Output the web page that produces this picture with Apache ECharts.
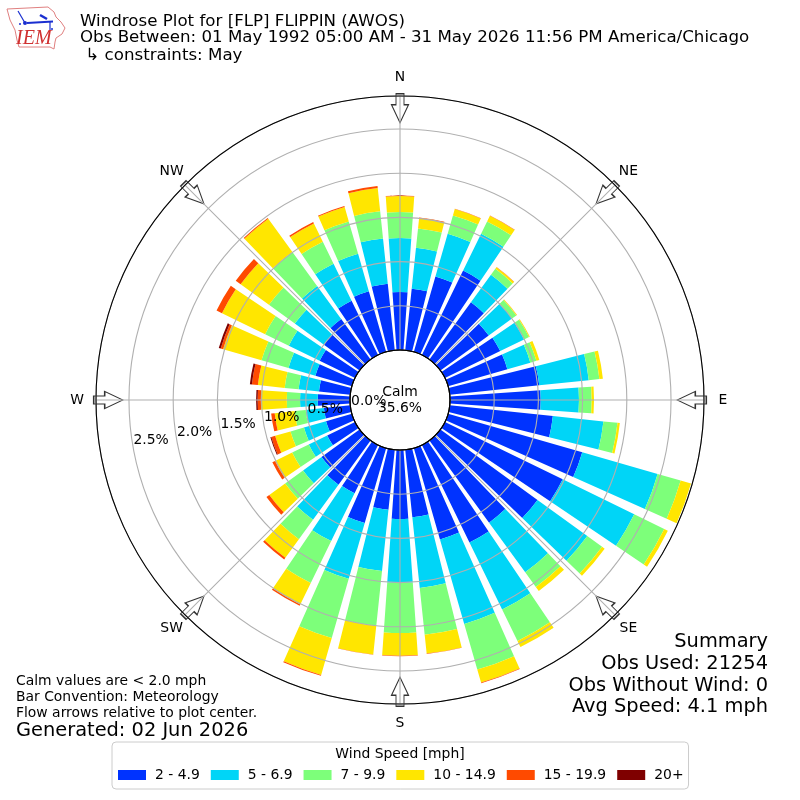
<!DOCTYPE html>
<html><head><meta charset="utf-8">
<style>html,body{margin:0;padding:0;background:#fff}#c{width:800px;height:800px}</style>
<script src="https://cdn.jsdelivr.net/npm/echarts@6/dist/echarts.min.js"></script>
</head><body><div id="c"></div>
<script>
const directions=[0,10,20,30,40,50,60,70,80,90,100,110,120,130,140,150,160,170,180,190,200,210,220,230,240,250,260,270,280,290,300,310,320,330,340,350];
const speed2to5=[.656,.701,.888,1.063,.800,.675,.696,.698,1.018,1.026,1.173,1.579,1.482,1.357,1.149,1.227,1.075,.769,.781,.684,.882,.607,.618,.532,.351,.305,.300,.365,.356,.430,.446,.498,.566,.684,.713,.758];
const speed5to7=[.611,.464,.503,.464,.385,.326,.300,.270,.563,.433,.575,.887,.900,.696,.695,.843,.995,.803,.724,.696,.656,.603,.491,.258,.232,.260,.207,.200,.232,.317,.388,.407,.464,.465,.441,.514];
const speed7to10=[.294,.221,.215,.155,.083,.060,.062,.072,.121,.144,.160,.271,.378,.207,.204,.396,.536,.532,.566,.622,.697,.527,.271,.251,.209,.158,.127,.150,.158,.317,.298,.362,.475,.276,.382,.308];
const speed10to15=[.181,.119,.075,.071,.023,.008,.009,.034,.040,.026,.027,.122,.045,.036,.057,.076,.154,.215,.255,.326,.434,.270,.260,.221,.215,.181,.226,.294,.305,.452,.543,.396,.464,.232,.169,.265];
const speed15to20=[.006,.006,.005,.004,.002,.002,.001,0,0,0,0,0,0,0,0,.001,.006,.004,.006,.004,.011,.017,.023,.040,.034,.045,.040,.036,.068,.028,.068,.068,.011,.017,.011,.023];
const speed20plus=[0,0,0,0,0,0,0,0,0,0,0,0,0,0,0,0,0,0,0,0,0,0,0,0,0,.011,0,.017,.023,.023,0,0,0,0,0,0];
const speedNames=['2 - 4.9','5 - 6.9','7 - 9.9','10 - 14.9','15 - 19.9','20+'];
const speedColors=['#0033ff','#00d5f7','#7dff7a','#ffe600','#ff4a00','#7f0000'];
const speedValues=[speed2to5,speed5to7,speed7to10,speed10to15,speed15to20,speed20plus];
const ringTicks=[0,.5,1,1.5,2,2.5];
const compassNames=['N','NE','E','SE','S','SW','W','NW'];
const compassAngles=[0,45,90,135,180,225,270,315];
const radiusMax=2.873, arrowRadius=2.735, ringLabelAngle=260;
const FONT='"DejaVu Sans"';
const chart=echarts.init(document.getElementById('c'),null,{renderer:'canvas'});
const text=(x,y,t,size,extra)=>({type:'text',x,y,z:20,style:Object.assign({text:t,fill:'#000',font:size+'px '+FONT,textAlign:'left',textVerticalAlign:'middle'},extra||{})});
const blue='#1a2fd0';
chart.setOption({
 animation:false,
 backgroundColor:'#fff',
 polar:[
  {center:[400,400],radius:[50,304]},
  {center:[400,400],radius:[50,304]},
  {center:[400,400],radius:[0,323]}
 ],
 angleAxis:[
  {polarIndex:0,type:'category',data:directions,startAngle:95,clockwise:true,show:false},
  {polarIndex:1,type:'value',min:0,max:360,interval:45,startAngle:90,clockwise:true,z:6,
   axisLine:{show:true,lineStyle:{color:'#000',width:1.1}},axisTick:{show:false},axisLabel:{show:false},
   splitLine:{show:true,lineStyle:{color:'#b0b0b0',width:1.1}}},
  {polarIndex:2,type:'value',min:0,max:360,startAngle:90,clockwise:true,show:false}
 ],
 radiusAxis:[
  {polarIndex:0,type:'value',min:0,max:radiusMax,show:false},
  {polarIndex:1,type:'value',min:0,max:radiusMax,interval:.5,z:5,
   axisLine:{show:false},axisTick:{show:false},axisLabel:{show:false},
   splitLine:{show:true,lineStyle:{color:'#b0b0b0',width:1.1}}},
  {polarIndex:2,type:'value',min:0,max:1,show:false}
 ],
 legend:{left:112,top:742,orient:'horizontal',padding:[26,5,7,6],itemWidth:28,itemHeight:10,itemGap:11,
  backgroundColor:'#fff',borderColor:'#ccc',borderWidth:1,borderRadius:4,
  data:speedNames,icon:'rect',textStyle:{fontFamily:FONT,fontSize:13.9,color:'#000',padding:[0,0,0,4]}},
 series:[
  ...speedValues.map((vals,i)=>({type:'bar',name:speedNames[i],coordinateSystem:'polar',polarIndex:0,stack:'wind',
    barWidth:'80%',z:2,data:vals,itemStyle:{color:speedColors[i]}})),
  {type:'scatter',coordinateSystem:'polar',polarIndex:1,z:3,silent:true,
   symbol:'path://M4.5 0 L12.5 0 L12.5 11 L17 11 L8.5 29 L0 11 L4.5 11 Z',symbolSize:[17,29],
   symbolRotate:(v)=>-v[1],itemStyle:{color:'#fff',borderColor:'#333',borderWidth:1.2,opacity:1},
   data:compassAngles.map(a=>[arrowRadius,a])},
  {type:'scatter',coordinateSystem:'polar',polarIndex:1,z:10,silent:true,symbolSize:1,itemStyle:{color:'transparent',opacity:1},
   label:{show:true,position:'inside',offset:[18,-7],fontFamily:FONT,fontSize:13.9,color:'#000',formatter:p=>p.value[0].toFixed(1)+'%'},
   data:ringTicks.map(v=>[v,ringLabelAngle])},
  {type:'scatter',coordinateSystem:'polar',polarIndex:2,z:10,silent:true,symbolSize:1,itemStyle:{color:'transparent',opacity:1},
   label:{show:true,position:'inside',fontFamily:FONT,fontSize:13.9,color:'#000',formatter:p=>compassNames[p.dataIndex]},
   data:compassAngles.map(a=>[1,a])}
 ],
 graphic:{elements:[
  {type:'circle',shape:{cx:400,cy:400,r:50},z:20,style:{fill:null,stroke:'#000',lineWidth:1.1}},
  text(400,392,'Calm',13.9,{textAlign:'center'}),
  text(400,408,'35.6%',13.9,{textAlign:'center'}),
  text(80,21.5,'Windrose Plot for [FLP] FLIPPIN (AWOS)',16.67),
  text(80,38,'Obs Between: 01 May 1992 05:00 AM - 31 May 2026 11:56 PM America/Chicago',16.67),
  text(80,55.5,' ↳ constraints: May',16.67),
  text(16,681,'Calm values are < 2.0 mph',13.9),
  text(16,697.5,'Bar Convention: Meteorology',13.9),
  text(16,713,'Flow arrows relative to plot center.',13.9),
  text(16,731,'Generated: 02 Jun 2026',19.4),
  text(768,641.5,'Summary',19.4,{textAlign:'right'}),
  text(768,663.5,'Obs Used: 21254',19.4,{textAlign:'right'}),
  text(768,685.5,'Obs Without Wind: 0',19.4,{textAlign:'right'}),
  text(768,707,'Avg Speed: 4.1 mph',19.4,{textAlign:'right'}),
  text(400,754,'Wind Speed [mph]',13.9,{textAlign:'center'}),
  {type:'polygon',z:20,shape:{points:[[7,9],[48,7],[54,12],[56,17],[61,22],[65,28],[62,34],[56,38],[55,42],[54,49],[50,47],[19,47],[17,40],[15,30],[10,20]]},style:{fill:'#fff',stroke:'#e08080',lineWidth:1}},
  {type:'polyline',z:21,shape:{points:[[27,23],[53,21.5]]},style:{stroke:blue,lineWidth:2}},
  {type:'polyline',z:21,shape:{points:[[18,11],[25,23]]},style:{stroke:blue,lineWidth:1.2}},
  {type:'polyline',z:21,shape:{points:[[40,15],[47,19]]},style:{stroke:blue,lineWidth:2.5}},
  {type:'polyline',z:21,shape:{points:[[50,22],[50,30]]},style:{stroke:blue,lineWidth:1.2}},
  {type:'circle',z:21,shape:{cx:25,cy:23,r:2},style:{fill:blue}},
  {type:'circle',z:21,shape:{cx:20,cy:24,r:1},style:{fill:blue}},
  {type:'circle',z:21,shape:{cx:52,cy:29,r:1},style:{fill:blue}},
  {type:'text',x:16,y:38.5,z:21,style:{text:'IEM',fill:'#d03030',font:'italic 20px "Liberation Serif"',textAlign:'left',textVerticalAlign:'middle'}}
 ]}
});
</script></body></html>
